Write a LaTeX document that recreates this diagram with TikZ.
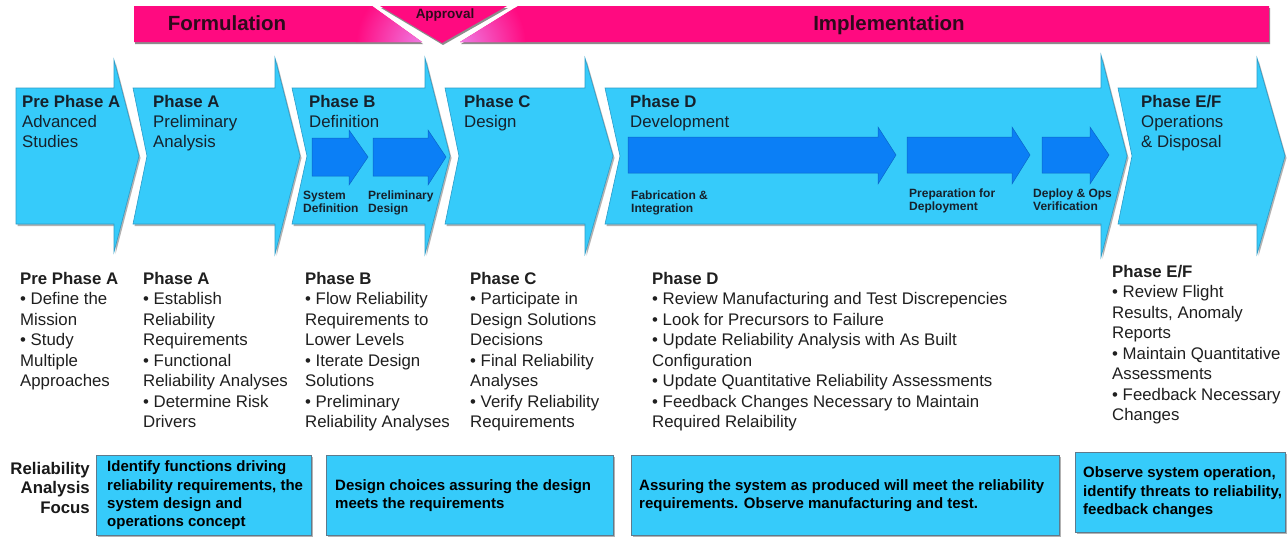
\documentclass[tikz,border=0pt]{standalone}
\usepackage{fontspec}
\setmainfont{Liberation Sans}
\definecolor{chev}{HTML}{36CBFA}
\definecolor{chevedge}{HTML}{2C9CC8}
\definecolor{inarrow}{HTML}{0B7FF6}
\definecolor{inedge}{HTML}{0A66C8}
\definecolor{mag}{HTML}{FF0A80}
\definecolor{pinklight}{HTML}{EE84EC}
\definecolor{ink}{HTML}{16212C}
\definecolor{bantext}{HTML}{2E0A1C}
\definecolor{boxedge}{HTML}{5E7A8C}
\newcommand\txt[2]{\parbox[t]{#1}{\raggedright #2}}
\newcommand\txtr[2]{\parbox[t]{#1}{\raggedleft #2}}
% chevron: xLeft, xNotch, xHeadBase, xTip, yHeadTop
\newcommand\mychev[5]{%
  \fill[black!30,shift={(1.5,2)}] (#1,88) -- (#3,88) -- (#3,#5) -- (#4,156) -- (#3,{312-#5}) -- (#3,224) -- (#1,224) -- (#2,156) -- cycle;
  \filldraw[chevfill] (#1,88) -- (#3,88) -- (#3,#5) -- (#4,156) -- (#3,{312-#5}) -- (#3,224) -- (#1,224) -- (#2,156) -- cycle;}
% inner arrow: x0, xHeadBase, xTip, bodyTop, bodyBot, headTop, headBot, yCenter
\newcommand\myarr[8]{%
  \filldraw[inarr] (#1,#4) -- (#2,#4) -- (#2,#6) -- (#3,#8) -- (#2,#7) -- (#2,#5) -- (#1,#5) -- cycle;}
\begin{document}
\begin{tikzpicture}[x=1pt,y=-1pt,
  chevfill/.style={fill=chev, draw=chevedge, line width=0.6pt},
  inarr/.style={fill=inarrow, draw=inedge, line width=0.5pt},
  chevtitle/.style={anchor=base west, inner sep=0pt, text=ink, font=\fontsize{16.8}{20}\selectfont},
  sublabel/.style={anchor=base west, inner sep=0pt, text=ink, font=\bfseries\fontsize{12}{13.5}\selectfont},
  coltext/.style={anchor=base west, inner sep=0pt, text=black!88, font=\fontsize{16.8}{20.5}\selectfont},
  fbox/.style={fill=chev, draw=boxedge, line width=0.8pt, anchor=north west, inner sep=0pt},
  ftext/.style={anchor=west, inner sep=0pt, text=black, font=\bfseries\fontsize{15}{18.3}\selectfont},
  bannertext/.style={text=bantext, font=\bfseries\fontsize{20.5}{24}\selectfont, inner sep=0pt, anchor=base},
  focuslabel/.style={anchor=base east, inner sep=0pt, text=black!90, font=\bfseries\fontsize{16.8}{19.5}\selectfont},
]
\useasboundingbox (0,0) rectangle (1288,538);
\fill[white] (0,0) rectangle (1288,538);

% ---------- banner ----------
\fill[black!45,shift={(1,2)}] (134,6) -- (372,6) -- (422,42) -- (134,42) -- cycle;
\fill[black!45,shift={(1,2)}] (380,6) -- (507,6) -- (442,43) -- cycle;
\fill[black!45,shift={(1,2)}] (518,6) -- (1269,6) -- (1269,42) -- (460,42) -- cycle;
\fill[mag] (134,6) -- (372,6) -- (422,42) -- (134,42) -- cycle;
\begin{scope}
  \clip (134,6) -- (372,6) -- (422,42) -- (134,42) -- cycle;
  \shade[inner color=pinklight, outer color=mag] (426,46) circle (70);
\end{scope}
\fill[mag] (380,6) -- (507,6) -- (442,43) -- cycle;
\fill[mag] (518,6) -- (1269,6) -- (1269,42) -- (460,42) -- cycle;
\begin{scope}
  \clip (518,6) -- (1269,6) -- (1269,42) -- (460,42) -- cycle;
  \shade[inner color=pinklight, outer color=mag] (456,46) circle (70);
\end{scope}
\node[bannertext] (form) at (227,30) {Formulation};
\node[bannertext] (impl) at (889,30) {Implementation};
\node[bannertext, font=\bfseries\fontsize{13.5}{16}\selectfont] (appr) at (445,18) {Approval};

% ---------- chevrons ----------
\mychev{16}{16}{114}{139}{60}
\mychev{133}{147}{275}{300}{58}
\mychev{292}{307}{425}{450}{58}
\mychev{445}{459}{585}{613}{58}
\mychev{605}{620}{1101}{1127}{55}
\mychev{1118}{1132}{1257}{1285}{58}

% inner arrows
\myarr{312}{349}{368}{138}{176}{130}{185}{157}
\myarr{373}{428}{446}{138}{176}{130}{185}{157}
\myarr{628}{878}{896}{137}{173}{127}{184}{155}
\myarr{907}{1012}{1030}{137}{173}{127}{184}{155}
\myarr{1042}{1090}{1109}{137}{173}{127}{184}{155}

% chevron titles
\node[chevtitle] (t0) at (22,107) {\txt{120pt}{\textbf{Pre Phase A}\\Advanced\\Studies}};
\node[chevtitle] (t1) at (153,107) {\txt{120pt}{\textbf{Phase A}\\Preliminary\\Analysis}};
\node[chevtitle] (t2) at (309,107) {\txt{120pt}{\textbf{Phase B}\\Definition}};
\node[chevtitle] (t3) at (464,107) {\txt{120pt}{\textbf{Phase C}\\Design}};
\node[chevtitle] (t4) at (630,107) {\txt{120pt}{\textbf{Phase D}\\Development}};
\node[chevtitle] (t5) at (1141,107) {\txt{120pt}{\textbf{Phase E/F}\\Operations\\\& Disposal}};

% sub labels
\node[sublabel] (s1) at (303,199) {\txt{80pt}{System\\Definition}};
\node[sublabel] (s2) at (368,199) {\txt{80pt}{Preliminary\\Design}};
\node[sublabel] (s3) at (631,199) {\txt{100pt}{Fabrication \&\\Integration}};
\node[sublabel] (s4) at (909,197) {\txt{100pt}{Preparation for\\Deployment}};
\node[sublabel] (s5) at (1033,197) {\txt{100pt}{Deploy \& Ops\\Verification}};

% ---------- columns ----------
\node[coltext] (c0) at (20,284) {\txt{120pt}{\textbf{Pre Phase A}\\• Define the\\Mission\\• Study\\Multiple\\Approaches}};
\node[coltext] (c1) at (143,284) {\txt{160pt}{\textbf{Phase A}\\• Establish\\Reliability\\Requirements\\• Functional\\Reliability Analyses\\• Determine Risk\\Drivers}};
\node[coltext] (c2) at (305,284) {\txt{160pt}{\textbf{Phase B}\\• Flow Reliability\\Requirements to\\Lower Levels\\• Iterate Design\\Solutions\\• Preliminary\\Reliability Analyses}};
\node[coltext] (c3) at (470,284) {\txt{160pt}{\textbf{Phase C}\\• Participate in\\Design Solutions\\Decisions\\• Final Reliability\\Analyses\\• Verify Reliability\\Requirements}};
\node[coltext] (c4) at (652,284) {\txt{400pt}{\textbf{Phase D}\\• Review Manufacturing and Test Discrepencies\\• Look for Precursors to Failure\\• Update Reliability Analysis with As Built\\Configuration\\• Update Quantitative Reliability Assessments\\• Feedback Changes Necessary to Maintain\\Required Relaibility}};
\node[coltext] (c5) at (1112,277) {\txt{200pt}{\textbf{Phase E/F}\\• Review Flight\\Results, Anomaly\\Reports\\• Maintain Quantitative\\Assessments\\• Feedback Necessary\\Changes}};

% ---------- focus row ----------
\node[focuslabel] (fl) at (90,474) {\txtr{100pt}{Reliability\\Analysis\\Focus}};

\fill[black!30] (97.5,457) rectangle (312.5,537);
\fill[black!30] (327.5,457) rectangle (614.5,537);
\fill[black!30] (632.5,457) rectangle (1060.5,537);
\fill[black!30] (1076.5,454) rectangle (1287,534);
\node[fbox, minimum width=215pt, minimum height=80pt] (f1) at (96,455) {};
\node[fbox, minimum width=287pt, minimum height=80pt] (f2) at (326,455) {};
\node[fbox, minimum width=428pt, minimum height=80pt] (f3) at (631,455) {};
\node[fbox, minimum width=210pt, minimum height=80pt] (f4) at (1075,452) {};
\node[ftext] (ft1) at ([xshift=11pt]f1.west) {\txt{210pt}{Identify functions driving\\reliability requirements, the\\system design and\\operations concept}};
\node[ftext] (ft2) at ([xshift=9pt]f2.west) {\txt{280pt}{Design choices assuring the design\\meets the requirements}};
\node[ftext] (ft3) at ([xshift=8pt]f3.west) {\txt{420pt}{Assuring the system as produced will meet the reliability\\requirements. Observe manufacturing and test.}};
\node[ftext] (ft4) at ([xshift=8pt]f4.west) {\txt{210pt}{Observe system operation,\\identify threats to reliability,\\feedback changes}};
\end{tikzpicture}
\end{document}
